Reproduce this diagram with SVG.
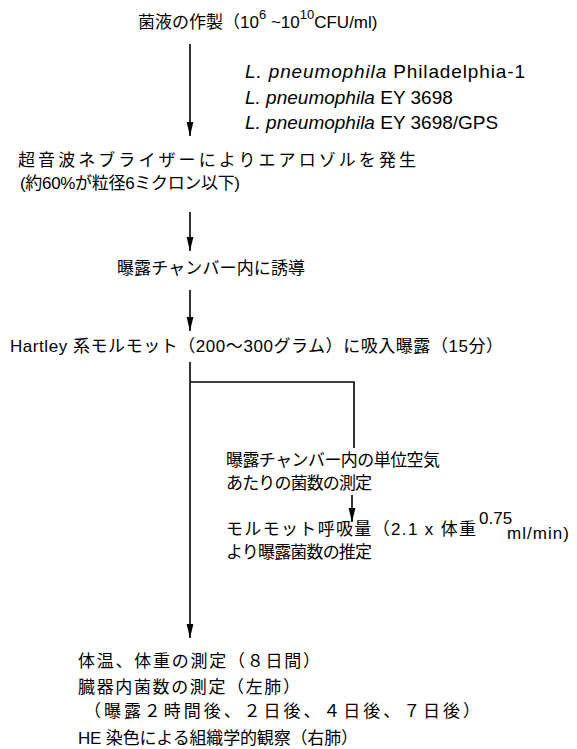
<svg xmlns="http://www.w3.org/2000/svg" width="577" height="749" viewBox="0 0 577 749">
<style>
.t{font-family:"Liberation Sans","Noto Sans CJK JP",sans-serif;font-size:17px;fill:#000}
.s{font-family:"Liberation Sans",sans-serif;font-size:19px;fill:#000}
.i{font-style:italic}
.sup{font-size:13px}
.c{stroke:#000;stroke-width:1.6;fill:none}
</style>
<defs>
<marker id="ah" markerUnits="userSpaceOnUse" markerWidth="14" markerHeight="8" refX="14" refY="4" orient="auto" viewBox="0 0 14 8">
<path d="M0,0.6 L14,4 L0,7.4 z" fill="#000"/>
</marker>
</defs>
<g id="connectors">
<path class="c" d="M190,44 V136" marker-end="url(#ah)"/>
<path class="c" d="M190,212 V251" marker-end="url(#ah)"/>
<path class="c" d="M190,290 V331" marker-end="url(#ah)"/>
<path class="c" d="M190,362 V638" marker-end="url(#ah)"/>
<path class="c" d="M190,382 H354 V448"/>
<path class="c" d="M352,495 V522" marker-end="url(#ah)"/>
</g>
<g id="n1"><text class="t" x="138" y="28">菌液の作製（10<tspan class="sup" dy="-9">6</tspan><tspan dy="9"> ~10</tspan><tspan class="sup" dy="-9">10</tspan><tspan dy="9">CFU/ml)</tspan></text></g>
<g id="strains">
<text class="s" x="245" y="78" textLength="280"><tspan class="i">L. pneumophila</tspan> Philadelphia-1</text>
<text class="s" x="245" y="104"><tspan class="i">L. pneumophila</tspan> EY 3698</text>
<text class="s" x="245" y="129"><tspan class="i">L. pneumophila</tspan> EY 3698/GPS</text>
</g>
<g id="n2">
<text class="t" x="18" y="166" textLength="398">超音波ネブライザーによりエアロゾルを発生</text>
<text class="t" x="20" y="189" textLength="220">(約60%が粒径6ミクロン以下)</text>
</g>
<g id="n3"><text class="t" x="117" y="274" textLength="188">曝露チャンバー内に誘導</text></g>
<g id="n4"><text class="t" x="10" y="352" textLength="493">Hartley 系モルモット（200～300グラム）に吸入曝露（15分）</text></g>
<g id="n5">
<text class="t" x="226" y="466" textLength="214">曝露チャンバー内の単位空気</text>
<text class="t" x="226" y="489" textLength="146">あたりの菌数の測定</text>
</g>
<g id="n6">
<text class="t" x="226" y="535" textLength="250">モルモット呼吸量（2.1 x 体重</text>
<text class="t" x="479" y="524" font-size="15">0.75</text>
<text class="t" x="507" y="539" textLength="62">ml/min)</text>
<text class="t" x="226" y="558" textLength="146">より曝露菌数の推定</text>
</g>
<g id="n7">
<text class="t" x="78" y="667" textLength="242">体温、体重の測定（８日間）</text>
<text class="t" x="78" y="693" textLength="222">臓器内菌数の測定（左肺）</text>
<text class="t" x="84" y="717" textLength="396">（曝露２時間後、２日後、４日後、７日後）</text>
<text class="t" x="78" y="744" textLength="280">HE 染色による組織学的観察（右肺）</text>
</g>
</svg>
